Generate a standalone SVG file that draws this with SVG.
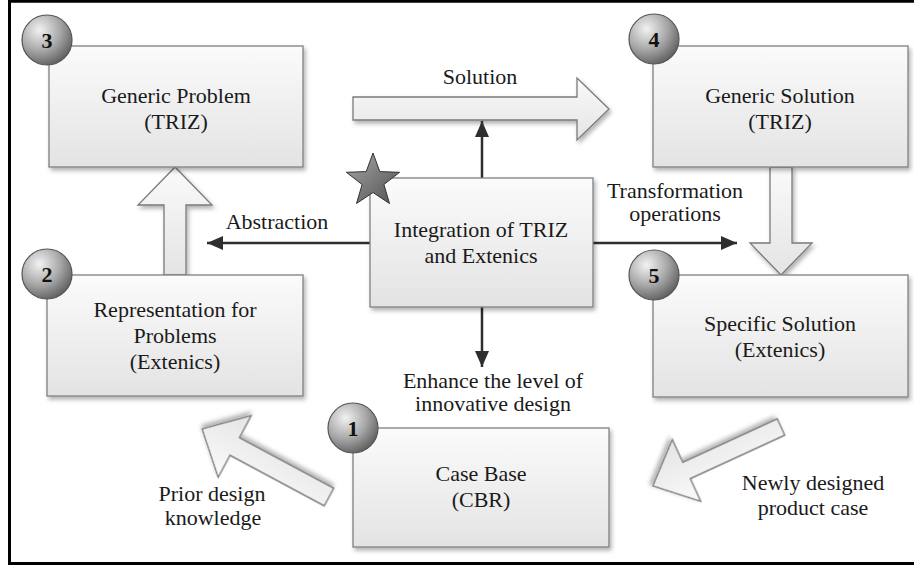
<svg xmlns="http://www.w3.org/2000/svg" width="914" height="568" viewBox="0 0 914 568">
<defs>
<linearGradient id="boxg" x1="0" y1="0" x2="0" y2="1"><stop offset="0" stop-color="#fbfbfb"/><stop offset="1" stop-color="#e3e3e3"/></linearGradient>
<linearGradient id="arrg" x1="0" y1="0" x2="0" y2="1"><stop offset="0" stop-color="#fafafa"/><stop offset="1" stop-color="#e4e4e4"/></linearGradient>
<radialGradient id="circg" cx="0.35" cy="0.3" r="0.75"><stop offset="0" stop-color="#f2f2f2"/><stop offset="0.55" stop-color="#a8a8a8"/><stop offset="1" stop-color="#5e5e5e"/></radialGradient>
<linearGradient id="starg" x1="0" y1="0" x2="1" y2="1"><stop offset="0" stop-color="#a8a8a8"/><stop offset="1" stop-color="#505050"/></linearGradient>
<filter id="sh" x="-10%" y="-10%" width="130%" height="130%"><feDropShadow dx="2" dy="3" stdDeviation="2" flood-color="#000" flood-opacity="0.3"/></filter>
<marker id="ah" markerUnits="userSpaceOnUse" markerWidth="16" markerHeight="14" refX="16" refY="7" orient="auto"><path d="M0,0 L16,7 L0,14 z" fill="#2e2e2e"/></marker>
<style>
.box{fill:url(#boxg);stroke:#808080;stroke-width:1.3;filter:url(#sh)}
.blk{fill:url(#arrg);stroke:#7a7a7a;stroke-width:1.3;filter:url(#sh)}
.num{fill:url(#circg);stroke:#555;stroke-width:1.2}
.t{font-family:"Liberation Serif","Times New Roman",serif;font-size:22px;fill:#1a1a1a;text-anchor:middle}
.n{font-family:"Liberation Serif","Times New Roman",serif;font-size:22px;font-weight:bold;fill:#111;text-anchor:middle}
.ln{stroke:#2e2e2e;stroke-width:2.5;fill:none;marker-end:url(#ah)}
</style>
</defs>
<rect x="0" y="0" width="914" height="568" fill="#fff"/>
<path d="M9.5,0 V563.5 H914 M9.5,1.3 H914" fill="none" stroke="#000" stroke-width="3"/>

<g id="connectors">
<polygon class="blk" points="353,97 577,97 577,78 609,109 577,140 577,120 353,120"/>
<polygon class="blk" points="164,275 164,205 138,205 175,167 212,205 186,205 186,275"/>
<polygon class="blk" points="770,167 792,167 792,243 812,243 781,275 750,243 770,243"/>
<polygon class="blk" transform="translate(329,497) rotate(208.2)" points="0,-10 107,-10 107,-35 144,0 107,35 107,10 0,10"/>
<polygon class="blk" transform="translate(781,427) rotate(155.3)" points="0,-9 104,-9 104,-34 141,0 104,34 104,9 0,9"/>
<line class="ln" x1="482" y1="178" x2="482" y2="121"/>
<line class="ln" x1="370" y1="243" x2="207" y2="243"/>
<line class="ln" x1="593" y1="243" x2="737" y2="243"/>
<line class="ln" x1="482" y1="307" x2="482" y2="367"/>
<text class="t" x="480" y="84">Solution</text>
<text class="t" x="277" y="229">Abstraction</text>
<text class="t" x="675" y="198">Transformation</text>
<text class="t" x="675" y="221">operations</text>
<text class="t" x="493" y="388">Enhance the level of</text>
<text class="t" x="493" y="411">innovative design</text>
<text class="t" x="212" y="501">Prior design</text>
<text class="t" x="213" y="525">knowledge</text>
<text class="t" x="813" y="490">Newly designed</text>
<text class="t" x="813" y="515">product case</text>
</g>

<g id="node3">
<rect class="box" x="49" y="46" width="254" height="121"/>
<text class="t" x="176" y="103">Generic Problem</text>
<text class="t" x="176" y="129">(TRIZ)</text>
<circle class="num" cx="47" cy="40" r="25"/>
<text class="n" x="47" y="48">3</text>
</g>

<g id="node4">
<rect class="box" x="653" y="46" width="255" height="121"/>
<text class="t" x="780" y="103">Generic Solution</text>
<text class="t" x="780" y="129">(TRIZ)</text>
<circle class="num" cx="654" cy="39" r="25"/>
<text class="n" x="654" y="47">4</text>
</g>

<g id="node2">
<rect class="box" x="47" y="275" width="256" height="121"/>
<text class="t" x="175" y="317">Representation for</text>
<text class="t" x="175" y="343">Problems</text>
<text class="t" x="175" y="369">(Extenics)</text>
<circle class="num" cx="47" cy="274" r="25"/>
<text class="n" x="47" y="282">2</text>
</g>

<g id="node5">
<rect class="box" x="653" y="275" width="255" height="122"/>
<text class="t" x="780" y="331">Specific Solution</text>
<text class="t" x="780" y="357">(Extenics)</text>
<circle class="num" cx="654" cy="275" r="25"/>
<text class="n" x="654" y="283">5</text>
</g>

<g id="node1">
<rect class="box" x="353" y="428" width="256" height="119"/>
<text class="t" x="481" y="481">Case Base</text>
<text class="t" x="481" y="507">(CBR)</text>
<circle class="num" cx="353" cy="428" r="25"/>
<text class="n" x="353" y="436">1</text>
</g>

<g id="center">
<rect class="box" x="370" y="178" width="223" height="129"/>
<text class="t" x="481" y="237">Integration of TRIZ</text>
<text class="t" x="481" y="263">and Extenics</text>
<polygon points="373,153 379.8,171.6 399.6,172.3 383.9,184.5 389.5,203.5 373,192.5 356.5,203.5 362.1,184.5 346.4,172.3 366.2,171.6" fill="url(#starg)" stroke="#333" stroke-width="1"/>
</g>
</svg>
